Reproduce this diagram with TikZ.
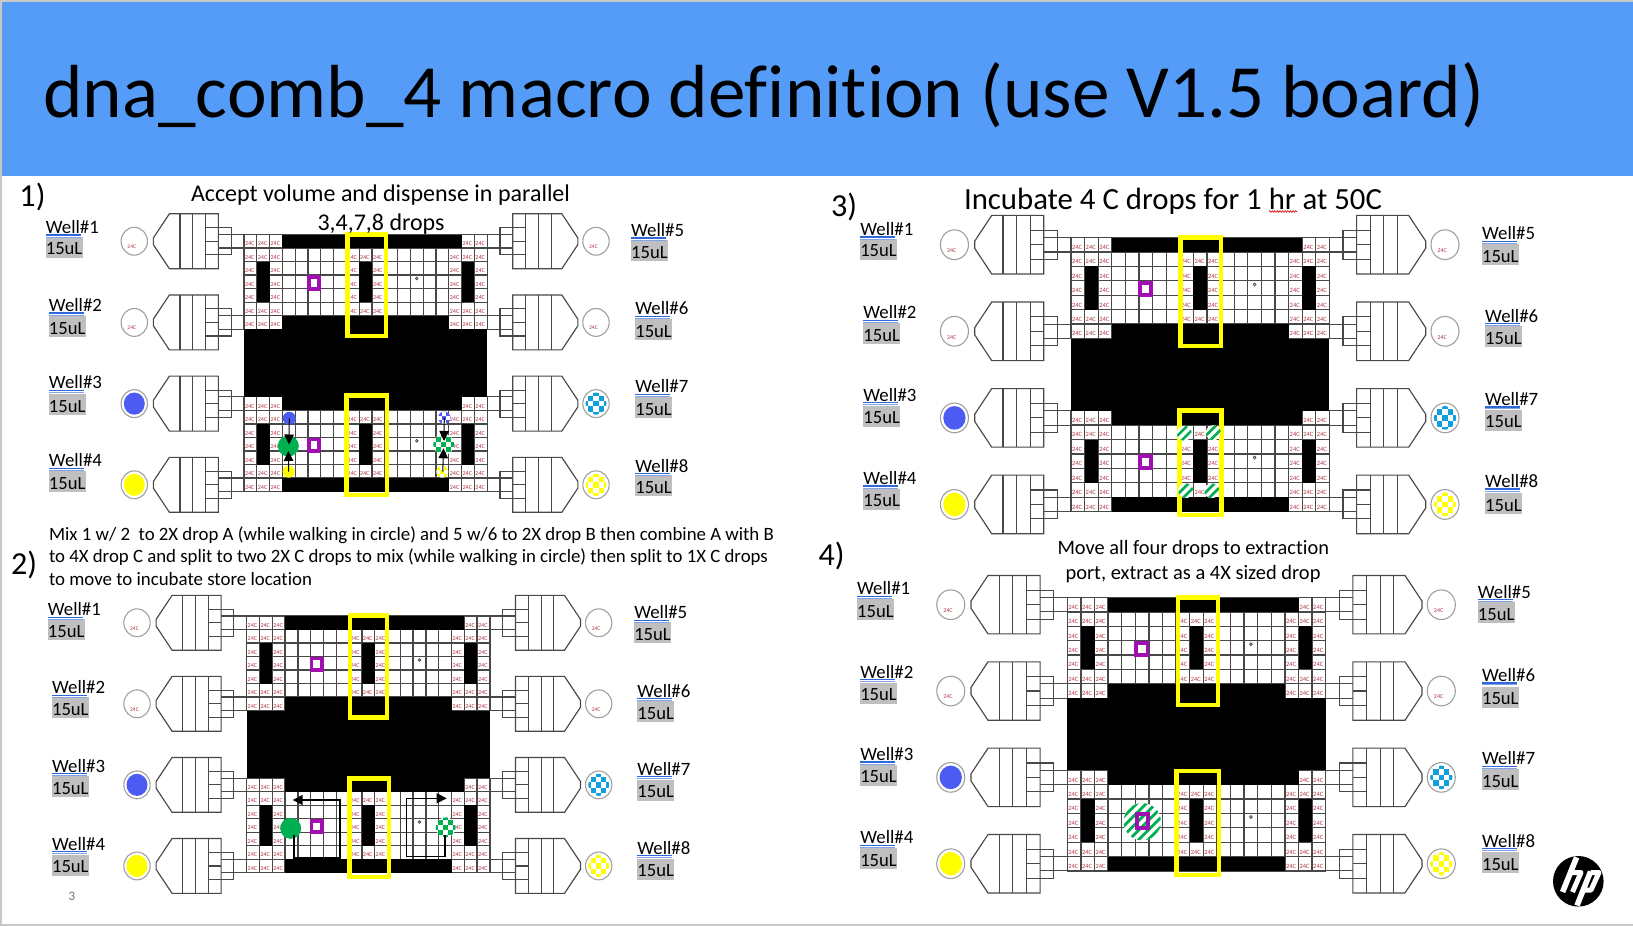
\documentclass[tikz,border=0pt]{standalone}
\usepackage{fontspec}
\setmainfont{Carlito}[Ligatures=NoCommon]
\usetikzlibrary{arrows.meta,decorations.pathmorphing}
\definecolor{banner}{HTML}{559CF9}
\definecolor{gridc}{HTML}{484848}
\definecolor{tempc}{HTML}{B03844}
\definecolor{wellb}{HTML}{A0A0A0}
\definecolor{dblue}{HTML}{4C5CF2}
\definecolor{dcyan}{HTML}{0F9FDE}
\definecolor{dyellow}{HTML}{FFFF00}
\definecolor{dgreen}{HTML}{00B050}
\definecolor{purp}{HTML}{A010B0}
\definecolor{labgray}{HTML}{BFBFBF}
\definecolor{ulblue}{HTML}{2F66D8}
\definecolor{edge}{HTML}{C8C8C8}
\tikzset{
  gridline/.style={draw=gridc,line width=1.25pt},
  portline/.style={draw=gridc,line width=1.15pt},
  blackcell/.style={fill=black},
  wellring/.style={draw=wellb,line width=1.1pt,fill=white},
  yellowbox/.style={draw=dyellow,line width=4.5pt},
  txt/.style={inner sep=0pt,outer sep=0pt,anchor=base west,text=black},
  tempmark/.style={inner sep=0pt,outer sep=0pt,text=tempc},
  purpbox/.style={draw=purp,line width=3.8pt},
  moveline/.style={line width=1pt,draw=black,-{Triangle[length=10pt,width=9.5pt]}},
  walkline/.style={line width=1.5pt,draw=black,-{Triangle[length=10pt,width=10pt]}},
  dropnode/.style={circle,inner sep=0pt,outer sep=0pt,draw=none},
}
% text set at the size that gives it the wanted width
\newcommand\fittxt[2]{\setbox0=\hbox{\fontsize{10pt}{12pt}\selectfont #2}\edef\fitw{\the\wd0}%
  \pgfmathsetmacro\fitsz{(#1/\fitw)*10}\fontsize{\fitsz pt}{\fitsz pt}\selectfont #2}
\newcommand\checkerdrop[5]{% x y r s colour
  \begin{scope}
    \clip (#1,#2) circle [radius=#3];
    \fill[white] (#1,#2) circle [radius=#3];
    \foreach \ii in {-4,...,4}{\foreach \jj in {-4,...,4}{
      \pgfmathtruncatemacro\pp{mod(\ii+\jj+8,2)}
      \ifnum\pp=0 \fill[#5] ({#1+\ii*#4-#4/2},{#2+\jj*#4-#4/2}) rectangle ++(#4,#4);\fi
    }}
  \end{scope}}
\newcommand\hatchdrop[5]{% x y r spacing width : px
  \begin{scope}
    \clip (#1,#2) circle [radius=#3];
    \fill[white] (#1,#2) circle [radius=#3];
    \foreach \kk in {-3.5,-2.5,-1.5,-0.5,0.5,1.5,2.5,3.5}{
      \draw[dgreen,line width=#5] ({#1+\kk*#4-2*#3},{#2+2*#3}) -- ({#1+\kk*#4+2*#3},{#2-2*#3});
    }
  \end{scope}}
\newcommand\portshape[3]{% shift x, row, sign
  \begin{scope}[shift={(#1,#2)},xscale=#3]
    \draw[portline,fill=white] (-7.08,-.25)--(-5.83,-2.03)--(-2,-2.03)--(-2,2.03)--(-5.83,2.03)--(-7.08,.25)--cycle;
    \foreach \vx in {-5,-4,-3}{\draw[portline] (\vx,-2.03)--(\vx,2.03);}
    \draw[portline] (-3,-1)--(-1,-1)--(-1,1)--(-3,1);
    \draw[portline] (-3,0)--(-2,0);
    \draw[portline] (-2,-.5)--(0,-.5);
    \draw[portline] (-2,.5)--(0,.5);
  \end{scope}}
\newcommand\wellempty[3]{% x row fontsize
  \draw[wellring] (#1,#2) circle [radius=1.03];
  \node[tempmark,font=\fontsize{#3}{#3}\selectfont] at ({#1-.2},{#2+.42}) {24C};}
\newcommand\wellfull[3]{% x row colour
  \draw[wellring] (#1,#2) circle [radius=1.03];
  \fill[#3] (#1,#2) circle [radius=.82];}
\newcommand\wellcheck[3]{%
  \draw[wellring] (#1,#2) circle [radius=1.03];
  \checkerdrop{#1}{#2}{.82}{.4}{#3}}
\newcommand\panelboard[4]{% left top cellw rowh
  \pgfmathsetmacro\tfs{6.1*#3/12.8}
  \pgfmathsetmacro\wfs{5.6*#3/12.8}
  \begin{scope}[shift={(#1,#2)},x=#3pt,y=-#4pt]
    \fill[white] (0,0) rectangle (19,19);
    \foreach \i in {0,...,19}{\draw[gridline] (\i,0)--(\i,7); \draw[gridline] (\i,12)--(\i,19);}
    \foreach \j in {0,...,7}{\draw[gridline] (0,\j)--(19,\j);}
    \foreach \j in {12,...,19}{\draw[gridline] (0,\j)--(19,\j);}
    \fill[blackcell] (0,7) rectangle (19,12);
    \foreach \b in {0,12}{
      \pgfmathtruncatemacro\bb{\b}
      \fill[blackcell] (3,\bb) rectangle (17,\bb+1);
      \fill[blackcell] (3,\bb+6) rectangle (16,\bb+7);
      \foreach \c in {1,9,17}{\fill[blackcell] (\c,\bb+2) rectangle (\c+1,\bb+5);}
      \foreach \c/\r in {0/0,1/0,2/0,17/0,18/0,
        0/1,1/1,2/1,8/1,9/1,10/1,16/1,17/1,18/1,
        0/2,2/2,8/2,10/2,16/2,18/2,
        0/3,2/3,8/3,10/3,16/3,18/3,
        0/4,2/4,8/4,10/4,16/4,18/4,
        0/5,1/5,2/5,8/5,9/5,10/5,16/5,17/5,18/5,
        0/6,1/6,2/6,16/6,17/6,18/6}{
        \node[tempmark,font=\fontsize{\tfs pt}{\tfs pt}\selectfont] at ({\c+.45},{\bb+\r+.68}) {24C};
      }
      \draw[purpbox] (5.07,\bb+3.15) rectangle (5.89,\bb+4);
      \draw[draw=gridc,line width=.8pt,fill=white] (13.5,\bb+3.25) circle [radius=.1];
    }
    \foreach \r in {.5,6.5,12.5,18.5}{
      \portshape{0}{\r}{1}
      \portshape{19}{\r}{-1}
    }
    \wellempty{-8.57}{.5}{\wfs pt}
    \wellempty{-8.57}{6.5}{\wfs pt}
    \wellfull{-8.57}{12.5}{dblue}
    \wellfull{-8.57}{18.5}{dyellow}
    \wellempty{27.5}{.5}{\wfs pt}
    \wellempty{27.5}{6.5}{\wfs pt}
    \wellcheck{27.5}{12.5}{dcyan}
    \wellcheck{27.5}{18.5}{dyellow}
  \end{scope}}
\newcommand\welllab[5]{% panel n x yWell y15 (in display units)
  \pgfmathsetmacro\lx{#3*1.0415}
  \pgfmathsetmacro\lya{#4*1.0415}
  \pgfmathsetmacro\lyb{#5*1.0415}
  \fill[labgray] (\lx,\lyb-11) rectangle (\lx+37,\lyb+10);
  \node[txt] (w#1n#2) at (\lx,\lya+6.5) {\fittxt{53}{Well\##2}};
  \node[txt] (v#1n#2) at (\lx,\lyb+7) {\fittxt{36.5}{15uL}};
  \draw[ulblue,line width=1.4pt] (\lx,\lya+8) -- (\lx+35,\lya+8);
  \draw[ulblue!60,line width=1pt] (\lx,\lya+10) -- (\lx+35,\lya+10);
}
\begin{document}
\begin{tikzpicture}[x=1pt,y=-1pt]
\useasboundingbox (0,0) rectangle (1633,926);
\fill[white] (0,0) rectangle (1633,926);
\draw[edge,line width=1.5pt] (.75,926) -- (.75,.75) -- (1633,.75);
\draw[edge,line width=1.5pt] (0,925.2) -- (1633,925.2);
\fill[banner] (1.5,1.5) rectangle (1633,176);
\node[txt] (title) at (43.5,117) {\fittxt{1441}{dna\_comb\_4 macro definition (use V1.5 board)}};

\panelboard{244}{234.5}{12.8}{13.53}
\panelboard{246.7}{616}{12.8}{13.51}
\panelboard{1071}{237.5}{13.6}{14.43}
\panelboard{1067.3}{597.5}{13.6}{14.39}

% yellow windows
\draw[yellowbox] (347.25,234.25) rectangle (385.75,335.75);
\draw[yellowbox] (346.25,395.25) rectangle (386.75,494.75);
\draw[yellowbox] (349.75,615.25) rectangle (386.75,717.5);
\draw[yellowbox] (349.5,778.25) rectangle (388.75,877);
\draw[yellowbox] (1180.25,237.25) rectangle (1220.75,345.75);
\draw[yellowbox] (1179.5,410.5) rectangle (1221.5,514.75);
\draw[yellowbox] (1177.75,597.25) rectangle (1217.75,704.75);
\draw[yellowbox] (1176.5,770.75) rectangle (1218.75,874.75);

% panel 1 drops
\node[dropnode,fill=dblue,minimum size=13pt] (pa) at (289.3,418.3) {};
\node[dropnode,fill=dyellow,minimum size=12pt] (pb) at (288.7,471.7) {};
\node[dropnode,fill=dgreen,minimum size=21pt] (pc) at (288.3,446) {};
\coordinate (pct) at (289,444.5);
\coordinate (pcb) at (288.4,451);
\draw[moveline] (pa.center) -- (pct);
\draw[moveline] (pb.center) -- (pcb);
\checkerdrop{444.3}{417.7}{6.2}{4}{dblue}
\checkerdrop{442.3}{471.7}{6}{4}{dyellow}
\checkerdrop{443.7}{444.3}{10.5}{5}{dgreen}
\coordinate (qa) at (444.3,417.7);
\coordinate (qb) at (442.8,471.7);
\coordinate (qct) at (444,441);
\coordinate (qcb) at (443.5,448.3);
\draw[moveline] (qa) -- (qct);
\draw[moveline] (qb) -- (qcb);

% panel 2 drops and walks
\node[dropnode,fill=dgreen,minimum size=21pt] (ra) at (290.7,828.3) {};
\checkerdrop{445.7}{827.3}{10}{5}{dgreen}
\coordinate (rb) at (445,835);
\coordinate (ra1) at (294,858);
\coordinate (ra2) at (340,858);
\coordinate (ra3) at (340,800);
\coordinate (ra4) at (292.7,800);
\coordinate (rb1) at (445,856.7);
\coordinate (rb2) at (406.7,856.7);
\coordinate (rb3) at (406.7,798.3);
\coordinate (rb4) at (446.7,798.3);
\draw[walkline] (294,835) -- (ra1) -- (ra2) -- (ra3) -- (ra4);
\draw[walkline] (rb) -- (rb1) -- (rb2) -- (rb3) -- (rb4);

% panel 3 drops
\hatchdrop{1184.3}{433.3}{7.5}{9}{2.6pt}
\hatchdrop{1213.3}{432.7}{7.5}{9}{2.6pt}
\hatchdrop{1185.7}{490.7}{7.5}{9}{2.6pt}
\hatchdrop{1211.7}{490.7}{7.5}{9}{2.6pt}

% panel 4 drop
\hatchdrop{1142.3}{821.7}{18.7}{9.5}{2.8pt}
\draw[purpbox] (1137,814.2) rectangle (1148,828);

% captions
\node[txt] (n1) at (19.5,206) {\fittxt{26}{1)}};
\node[txt] (n2) at (11,574.5) {\fittxt{26}{2)}};
\node[txt] (n3) at (831,216) {\fittxt{26}{3)}};
\node[txt] (n4) at (818.6,565) {\fittxt{26}{4)}};
\node[txt] (c1a) at (191,201) {\fittxt{379}{Accept volume and dispense in parallel}};
\node[txt] (c1b) at (317.5,230) {\fittxt{127}{3,4,7,8 drops}};
\node[txt] (c2a) at (49,540) {\fittxt{725}{Mix 1 w/ 2\ \ to 2X drop A (while walking in circle) and 5 w/6 to 2X drop B then combine A with B}};
\node[txt] (c2b) at (49,562.5) {\fittxt{719}{to 4X drop C and split to two 2X C drops to mix (while walking in circle) then split to 1X C drops}};
\node[txt] (c2c) at (49,585) {\fittxt{263}{to move to incubate store location}};
\node[txt] (c3) at (964,209) {\fittxt{418}{Incubate 4 C drops for 1 hr at 50C}};
\node[txt] (c4a) at (1057.5,554) {\fittxt{271.5}{Move all four drops to extraction}};
\node[txt] (c4b) at (1065.5,579) {\fittxt{255}{port, extract as a 4X sized drop}};
\draw[red!85!black,line width=.6pt,decorate,decoration={zigzag,segment length=2.6pt,amplitude=.8pt}] (1269,211.5) -- (1297,211.5);

% well labels
\foreach \p/\n/\x/\ya/\yb in {
 a/1/44/218/238,a/2/47/293/314,a/3/47/367/389,a/4/47/442/463,
 a/5/606/221/241,a/6/610/296/317,a/7/610/371/392,a/8/610/447/467,
 b/1/46/585/605,b/2/50/660/680,b/3/50/735/756,b/4/50/810/831,
 b/5/609/588/608,b/6/612/663/684,b/7/612/738/759,b/8/612/814/835,
 c/1/826/220/240,c/2/829/300/321,c/3/829/379/400,c/4/829/459/480,
 c/5/1423/224/245,c/6/1426/303/324,c/7/1426/383/404,c/8/1426/462/484,
 d/1/823/565/586,d/2/826/645/666,d/3/826/724/745,d/4/826/804/825,
 d/5/1419/568/589,d/6/1423/648/670,d/7/1423/728/749,d/8/1423/807/829}{
  \welllab{\p}{\n}{\x}{\ya}{\yb}
}

% slide number
\node[inner sep=0pt,text=black!55,font=\fontsize{13}{13}\selectfont] (slideno) at (72,896) {3};

% hp logo
\fill[black] (1578.3,881.3) circle [radius=25.3];
\begin{scope}[white,line width=5.6pt]
  \draw (1576.6,857.3) -- (1562.6,892);
  \draw[line width=5pt,line join=round] (1571.5,872.5) -- (1581,872.5) -- (1572.5,892);
  \draw (1590.6,871.5) -- (1577,905.5);
  \draw[line width=5pt,line join=round] (1590.6,872.5) -- (1599,872.5) -- (1591,890) -- (1583,890);
\end{scope}
\end{tikzpicture}
\end{document}
